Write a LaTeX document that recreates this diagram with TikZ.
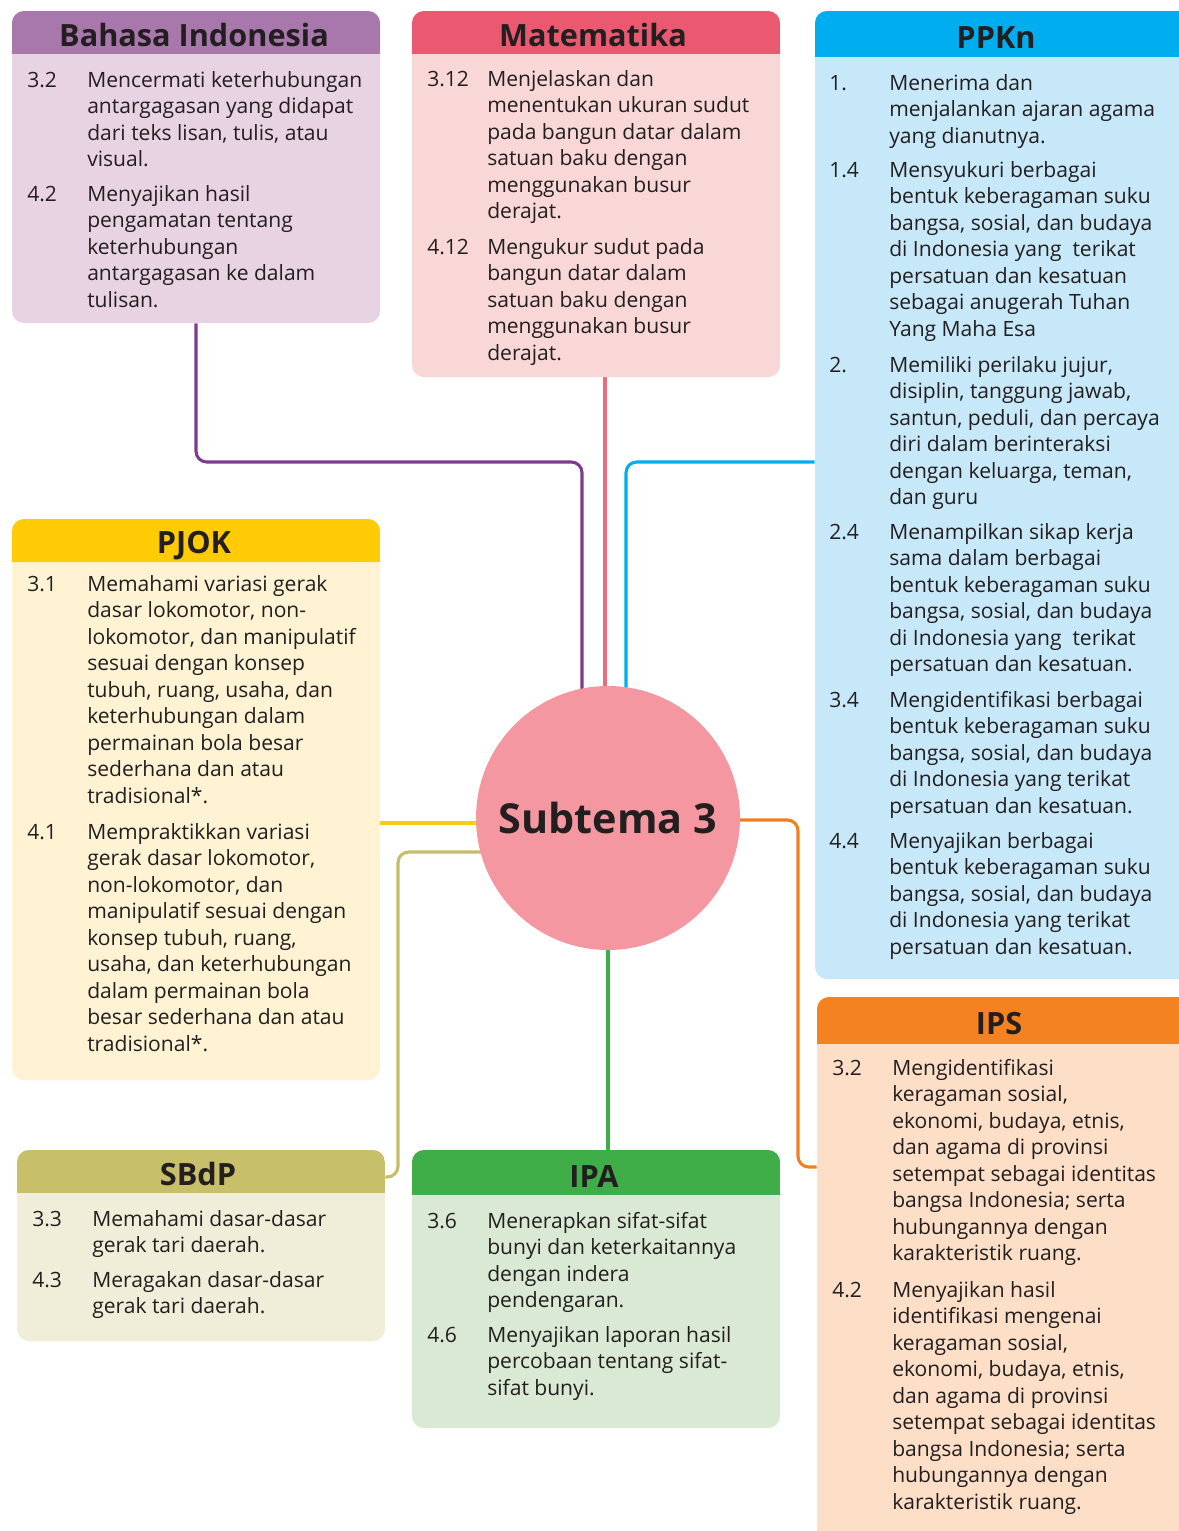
\documentclass[tikz,border=0pt]{standalone}
\usepackage{fontspec}
\setmainfont{Open Sans}
\usetikzlibrary{fit}
\pgfdeclarelayer{bg}
\pgfsetlayers{bg,main}
\definecolor{ink}{HTML}{231F20}
\definecolor{bihd}{HTML}{A878AC}\definecolor{bibd}{HTML}{E8D3E2}\definecolor{biln}{HTML}{7E3A8E}
\definecolor{mthd}{HTML}{EA5970}\definecolor{mtbd}{HTML}{F8D7D6}\definecolor{mtln}{HTML}{EE6A7E}
\definecolor{pphd}{HTML}{00AEEF}\definecolor{ppbd}{HTML}{C6E8F8}\definecolor{ppln}{HTML}{00AEEF}
\definecolor{pjhd}{HTML}{FFCB05}\definecolor{pjbd}{HTML}{FFF3D3}\definecolor{pjln}{HTML}{FFC914}
\definecolor{sbhd}{HTML}{C7BF69}\definecolor{sbbd}{HTML}{F0EDD8}\definecolor{sbln}{HTML}{C5BD68}
\definecolor{iahd}{HTML}{3FAE49}\definecolor{iabd}{HTML}{D9E9D3}\definecolor{ialn}{HTML}{3DAE4A}
\definecolor{pshd}{HTML}{F58220}\definecolor{psbd}{HTML}{FDDFC8}\definecolor{psln}{HTML}{F07F22}
\definecolor{circ}{HTML}{F497A1}
\newcommand\itm[2]{\makebox[45pt][l]{#1}\parbox[t]{330pt}{\raggedright #2}}
\tikzset{
  boxnode/.style={inner sep=0pt, rounded corners=9pt},
  item/.style={anchor=base west, inner sep=0pt, text=ink, font=\fontsize{15.8}{19.875}\selectfont},
  ttl/.style={anchor=base, inner sep=0pt, text=ink, font=\fontsize{23}{27}\selectfont\bfseries},
  conn/.style={line width=2.3pt, rounded corners=8pt},
}
\begin{document}
\begin{tikzpicture}[x=0.75pt,y=-0.75pt]
\useasboundingbox (0,0) rectangle (1178,1531);
% ---------- boxes ----------
\node[boxnode, fill=bibd, fit={(12,11) (380,323)}] (bi) {};
\node[boxnode, fill=mtbd, fit={(412,11) (780,377)}] (mt) {};
\node[boxnode, fill=ppbd, fit={(815,11) (1195,979)}] (pp) {};
\node[boxnode, fill=pjbd, fit={(12,519) (380,1080)}] (pj) {};
\node[boxnode, fill=sbbd, fit={(17,1150) (385,1341)}] (sb) {};
\node[boxnode, fill=iabd, fit={(412,1150) (780,1428)}] (ia) {};
\node[boxnode, fill=psbd, fit={(817,997) (1195,1550)}] (ps) {};
% headers
\begin{scope}\clip[rounded corners=9pt] (12,11) rectangle (380,323); \fill[bihd] (12,11) rectangle (380,54);\end{scope}
\begin{scope}\clip[rounded corners=9pt] (412,11) rectangle (780,377); \fill[mthd] (412,11) rectangle (780,54);\end{scope}
\begin{scope}\clip[rounded corners=9pt] (815,11) rectangle (1195,979); \fill[pphd] (815,11) rectangle (1195,57);\end{scope}
\begin{scope}\clip[rounded corners=9pt] (12,519) rectangle (380,1080); \fill[pjhd] (12,519) rectangle (380,562);\end{scope}
\begin{scope}\clip[rounded corners=9pt] (17,1150) rectangle (385,1341); \fill[sbhd] (17,1150) rectangle (385,1193);\end{scope}
\begin{scope}\clip[rounded corners=9pt] (412,1150) rectangle (780,1428); \fill[iahd] (412,1150) rectangle (780,1195);\end{scope}
\begin{scope}\clip[rounded corners=9pt] (817,997) rectangle (1195,1550); \fill[pshd] (817,997) rectangle (1195,1044);\end{scope}
% titles
\node[ttl] (bi-t) at (194,46) {Bahasa Indonesia};
\node[ttl] (mt-t) at (593,46) {Matematika};
\node[ttl] (pp-t) at (996,48) {PPKn};
\node[ttl] (pj-t) at (194,553) {PJOK};
\node[ttl] (sb-t) at (198,1185) {SBdP};
\node[ttl] (ia-t) at (594,1187) {IPA};
\node[ttl] (ps-t) at (999,1034) {IPS};
% ---------- items ----------
\node[item] (bi1) at (27,87) {\itm{3.2}{Mencermati keterhubungan\\antargagasan yang didapat\\dari teks lisan, tulis, atau\\visual.}};
\node[item] (bi2) at (27,201) {\itm{4.2}{Menyajikan hasil\\pengamatan tentang\\keterhubungan\\antargagasan ke dalam\\tulisan.}};
\node[item] (mt1) at (427,86) {\itm{3.12}{Menjelaskan dan\\menentukan ukuran sudut\\pada bangun datar dalam\\satuan baku dengan\\menggunakan busur\\derajat.}};
\node[item] (mt2) at (427,254) {\itm{4.12}{Mengukur sudut pada\\bangun datar dalam\\satuan baku dengan\\menggunakan busur\\derajat.}};
\node[item] (pp1) at (829,90) {\itm{1.}{Menerima dan\\menjalankan ajaran agama\\yang dianutnya.}};
\node[item] (pp2) at (829,177) {\itm{1.4}{Mensyukuri berbagai\\bentuk keberagaman suku\\bangsa, sosial, dan budaya\\di Indonesia yang\ \ terikat\\persatuan dan kesatuan\\sebagai anugerah Tuhan\\Yang Maha Esa}};
\node[item] (pp3) at (829,372) {\itm{2.}{Memiliki perilaku jujur,\\disiplin, tanggung jawab,\\santun, peduli, dan percaya\\diri dalam berinteraksi\\dengan keluarga, teman,\\dan guru}};
\node[item] (pp4) at (829,539) {\itm{2.4}{Menampilkan sikap kerja\\sama dalam berbagai\\bentuk keberagaman suku\\bangsa, sosial, dan budaya\\di Indonesia yang\ \ terikat\\persatuan dan kesatuan.}};
\node[item] (pp5) at (829,707) {\itm{3.4}{Mengidentifikasi berbagai\\bentuk keberagaman suku\\bangsa, sosial, dan budaya\\di Indonesia yang terikat\\persatuan dan kesatuan.}};
\node[item] (pp6) at (829,848) {\itm{4.4}{Menyajikan berbagai\\bentuk keberagaman suku\\bangsa, sosial, dan budaya\\di Indonesia yang terikat\\persatuan dan kesatuan.}};
\node[item] (pj1) at (27,591) {\itm{3.1}{Memahami variasi gerak\\dasar lokomotor, non-\\lokomotor, dan manipulatif\\sesuai dengan konsep\\tubuh, ruang, usaha, dan\\keterhubungan dalam\\permainan bola besar\\sederhana dan atau\\tradisional*.}};
\node[item] (pj2) at (27,839) {\itm{4.1}{Mempraktikkan variasi\\gerak dasar lokomotor,\\non-lokomotor, dan\\manipulatif sesuai dengan\\konsep tubuh, ruang,\\usaha, dan keterhubungan\\dalam permainan bola\\besar sederhana dan atau\\tradisional*.}};
\node[item] (sb1) at (32,1226) {\itm{3.3}{Memahami dasar-dasar\\gerak tari daerah.}};
\node[item] (sb2) at (32,1287) {\itm{4.3}{Meragakan dasar-dasar\\gerak tari daerah.}};
\node[item] (ia1) at (427,1228) {\itm{3.6}{Menerapkan sifat-sifat\\bunyi dan keterkaitannya\\dengan indera\\pendengaran.}};
\node[item] (ia2) at (427,1342) {\itm{4.6}{Menyajikan laporan hasil\\percobaan tentang sifat-\\sifat bunyi.}};
\node[item] (ps1) at (832,1075) {\itm{3.2}{Mengidentifikasi\\keragaman sosial,\\ekonomi, budaya, etnis,\\dan agama di provinsi\\setempat sebagai identitas\\bangsa Indonesia; serta\\hubungannya dengan\\karakteristik ruang.}};
\node[item] (ps2) at (832,1297) {\itm{4.2}{Menyajikan hasil\\identifikasi mengenai\\keragaman sosial,\\ekonomi, budaya, etnis,\\dan agama di provinsi\\setempat sebagai identitas\\bangsa Indonesia; serta\\hubungannya dengan\\karakteristik ruang.}};
% ---------- centre ----------
\node[circle, fill=circ, minimum size=198pt, inner sep=0pt, text=ink, font=\fontsize{31}{36}\selectfont\bfseries] (c) at (608,818) {Subtema 3};
% ---------- connectors ----------
\coordinate (pA) at (582,462);
\coordinate (pB) at (626,462);
\coordinate (pY) at (0,823);
\coordinate (pS) at (398,852);
\coordinate (pSb) at (398,1177);
\coordinate (pO) at (798,820);
\coordinate (pOb) at (798,1167);
\begin{pgfonlayer}{bg}
\draw[conn, biln] (bi.south) |- (pA) -- (pA |- c.center);
\draw[conn, mtln] (mt.south -| 605,0) -- (605,818);
\draw[conn, ppln] (pp.west |- pB) -- (pB) -- (pB |- c.center);
\draw[conn, pjln] (pj.east |- pY) -- (c.center |- pY);
\draw[conn, sbln] (c.center |- pS) -- (pS) -- (pSb) -- (sb.east |- pSb);
\draw[conn, ialn] (c.center) -- (ia.north -| c.center);
\draw[conn, psln] (c.center |- pO) -- (pO) -- (pOb) -- (ps.west |- pOb);
\end{pgfonlayer}
\end{tikzpicture}
\end{document}
